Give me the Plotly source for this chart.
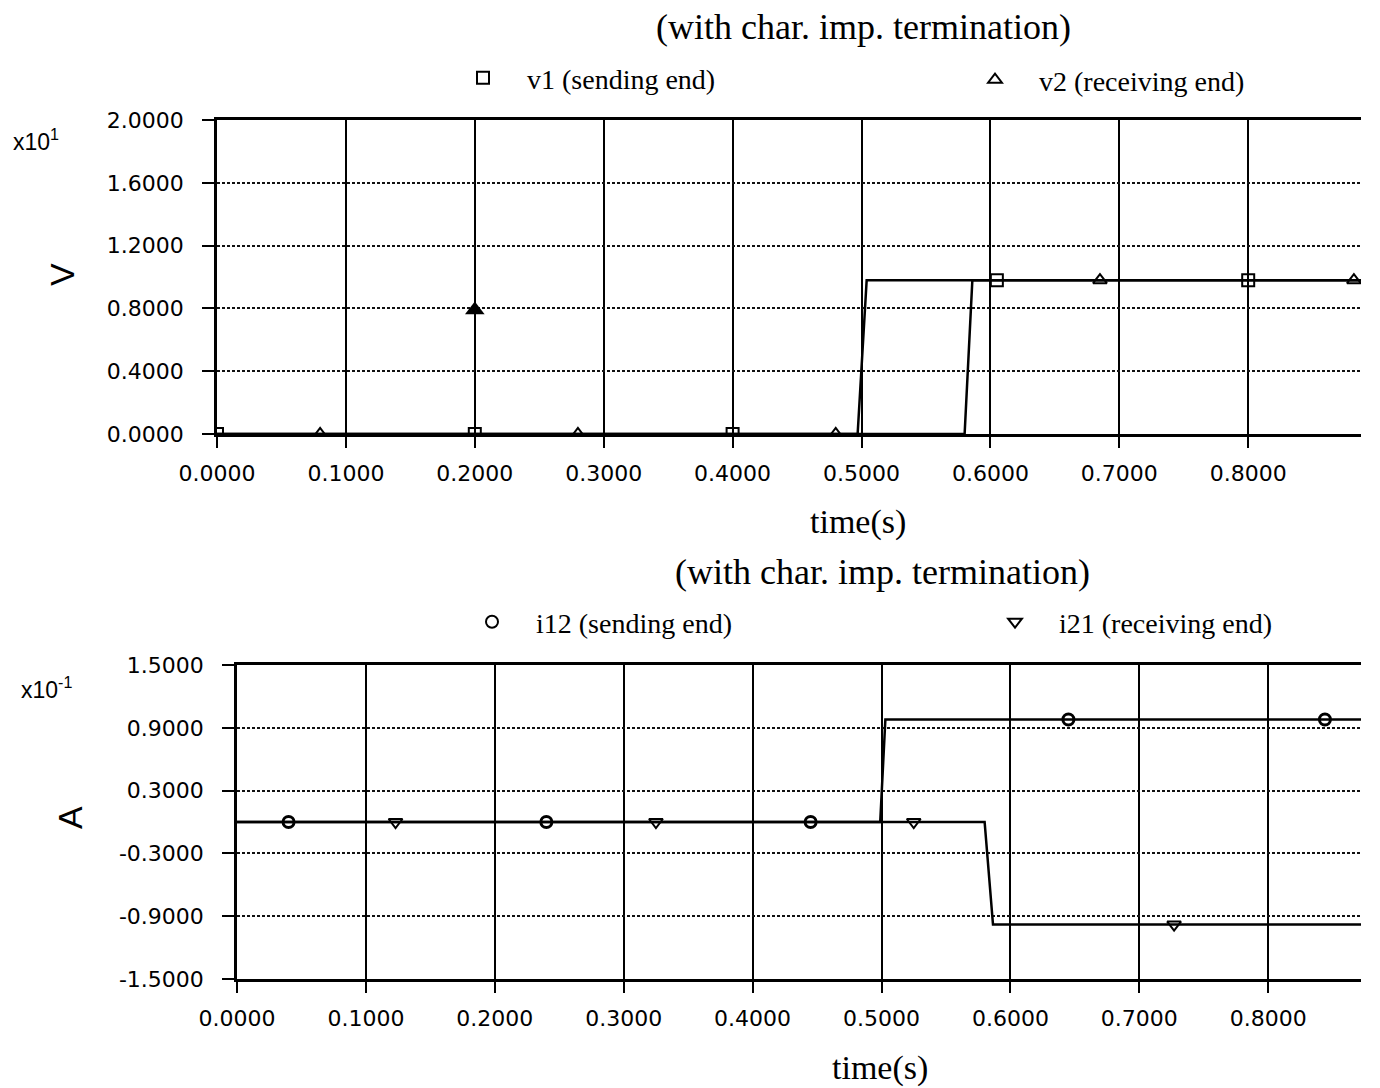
import plotly.graph_objects as go

W, H = 1380, 1088

# ---------------- data ----------------
# voltages (V), step curves (time in s)
t_v1 = [0.0, 0.497, 0.504, 0.95]
v1 = [0.0, 0.0, 9.8, 9.8]
t_v2 = [0.0, 0.580, 0.586, 0.95]
v2 = [0.0, 0.0, 9.8, 9.8]

# marker points
t_v1_mk = [0.0, 0.2, 0.4, 0.605, 0.8]
v1_mk = [0.0, 0.0, 0.0, 9.8, 9.8]
t_v2_mk = [0.08, 0.28, 0.48, 0.685, 0.882]
v2_mk = [0.0, 0.0, 0.0, 9.8, 9.8]
t_blob = [0.2]
v_blob = [7.9]

# currents (A)
t_i12 = [0.0, 0.499, 0.503, 0.95]
i12 = [0.0, 0.0, 0.098, 0.098]
t_i21 = [0.0, 0.580, 0.5865, 0.95]
i21 = [0.0, 0.0, -0.098, -0.098]

t_i12_mk = [0.04, 0.24, 0.445, 0.645, 0.844]
i12_mk = [0.0, 0.0, 0.0, 0.098, 0.098]
t_i21_mk = [0.123, 0.325, 0.525, 0.727]
i21_mk = [0.0, 0.0, 0.0, -0.098]

V_SCALE = 10.0     # x10^1
I_SCALE = 0.1      # x10^-1

x_ticks = [0.0, 0.1, 0.2, 0.3, 0.4, 0.5, 0.6, 0.7, 0.8, 0.9]
v_ticks = [0.0, 0.4, 0.8, 1.2, 1.6, 2.0]
i_ticks = [-1.5, -0.9, -0.3, 0.3, 0.9, 1.5]

title_text = "(with char. imp. termination)"

# ---------------- figure ----------------
fig = go.Figure()

LINE = dict(color="black", width=2.5)

def sc(vals, s):
    return [v / s for v in vals]

def fmt(vals):
    return ["%.4f" % v for v in vals]   # plain hyphen-minus like the original

# top plot
fig.add_trace(go.Scatter(x=t_v1, y=sc(v1, V_SCALE), mode="lines", line=LINE,
                         xaxis="x", yaxis="y", showlegend=False, hoverinfo="skip"))
fig.add_trace(go.Scatter(x=t_v2, y=sc(v2, V_SCALE), mode="lines", line=LINE,
                         xaxis="x", yaxis="y", showlegend=False, hoverinfo="skip"))
fig.add_trace(go.Scatter(x=t_v1_mk, y=sc(v1_mk, V_SCALE), mode="markers", name="v1 (sending end)",
                         marker=dict(symbol="square-open", size=12, color="black", line=dict(width=2)),
                         xaxis="x", yaxis="y", legend="legend"))
fig.add_trace(go.Scatter(x=t_v2_mk, y=sc(v2_mk, V_SCALE), mode="markers", name="v2 (receiving end)",
                         marker=dict(symbol="triangle-up-open", size=12, color="black", line=dict(width=2)),
                         xaxis="x", yaxis="y", legend="legend2"))
fig.add_trace(go.Scatter(x=t_blob, y=sc(v_blob, V_SCALE), mode="markers", showlegend=False,
                         marker=dict(symbol="triangle-up", size=17, color="black"),
                         xaxis="x", yaxis="y", hoverinfo="skip"))

# bottom plot
fig.add_trace(go.Scatter(x=t_i12, y=sc(i12, I_SCALE), mode="lines", line=LINE,
                         xaxis="x2", yaxis="y2", showlegend=False, hoverinfo="skip"))
fig.add_trace(go.Scatter(x=t_i21, y=sc(i21, I_SCALE), mode="lines", line=LINE,
                         xaxis="x2", yaxis="y2", showlegend=False, hoverinfo="skip"))
fig.add_trace(go.Scatter(x=t_i12_mk, y=sc(i12_mk, I_SCALE), mode="markers", name="i12 (sending end)",
                         marker=dict(symbol="circle-open", size=11, color="black", line=dict(width=3)),
                         xaxis="x2", yaxis="y2", legend="legend3"))
fig.add_trace(go.Scatter(x=t_i21_mk, y=sc(i21_mk, I_SCALE), mode="markers", name="i21 (receiving end)",
                         marker=dict(symbol="triangle-down-open", size=12, color="black", line=dict(width=2)),
                         xaxis="x2", yaxis="y2", legend="legend4"))

TICKFONT = dict(family="DejaVu Sans", size=22, color="black")

def xaxis_cfg(x0px, anchor):
    return dict(
        domain=[x0px / W, 1.0], range=[0, (W - x0px) / 1289.0], anchor=anchor,
        tickvals=x_ticks, ticktext=fmt(x_ticks), tickfont=TICKFONT,
        showgrid=True, gridcolor="black", gridwidth=2,
        showline=True, linecolor="black", linewidth=2.5, mirror=True,
        ticks="outside", ticklen=11, tickwidth=2, tickcolor="black",
        ticklabelstandoff=7, zeroline=False, automargin=False,
    )

def yaxis_cfg(y_top_px, y_bot_px, rng, tickvals, anchor):
    return dict(
        domain=[1 - y_bot_px / H, 1 - y_top_px / H], range=rng, anchor=anchor,
        tickvals=tickvals, ticktext=fmt(tickvals), tickfont=TICKFONT,
        showgrid=True, gridcolor="#111", gridwidth=2, griddash="3px,2px",
        showline=True, linecolor="black", linewidth=2.5, mirror=False,
        ticks="outside", ticklen=12, tickwidth=2, tickcolor="black",
        ticklabelstandoff=14, zeroline=False, automargin=False,
    )

LEGFONT = dict(family="Liberation Serif", size=28, color="black")

def leg(sym_xpx, ypx):
    # with itemwidth=78 the symbol sits 44px and the text 88px right of the legend origin
    return dict(x=(sym_xpx - 44) / W, y=1 - ypx / H, xanchor="left", yanchor="middle",
                font=LEGFONT, bgcolor="rgba(0,0,0,0)", itemsizing="constant",
                itemwidth=78, borderwidth=0)

def note(text, xpx, ypx, size, family, angle=0, xanchor="center"):
    return dict(text=text, x=xpx / W, y=1 - ypx / H, xref="paper", yref="paper",
                xanchor=xanchor, yanchor="middle", textangle=angle, showarrow=False,
                font=dict(family=family, size=size, color="black"))

fig.update_layout(
    width=W, height=H, margin=dict(l=0, r=0, t=0, b=0, autoexpand=False),
    paper_bgcolor="white", plot_bgcolor="white",
    xaxis=xaxis_cfg(217, "y"),
    yaxis=yaxis_cfg(120, 434, [0, 2.0], v_ticks, "x"),
    xaxis2=xaxis_cfg(237, "y2"),
    yaxis2=yaxis_cfg(665, 979, [-1.5, 1.5], i_ticks, "x2"),
    legend=leg(483, 78),
    legend2=leg(995, 80),
    legend3=leg(492, 622),
    legend4=leg(1015, 622),
    annotations=[
        note(title_text, 863, 27, 36, "Liberation Serif"),
        note(title_text, 882, 572, 36, "Liberation Serif"),
        note("time(s)", 858, 522, 34, "Liberation Serif"),
        note("time(s)", 880, 1068, 34, "Liberation Serif"),
        note("V", 62, 275, 34, "Liberation Sans", angle=-90),
        note("A", 70, 818, 34, "Liberation Sans", angle=-90),
        note("x10<sup>1</sup>", 11, 140, 23, "Liberation Sans", xanchor="left"),
        note("x10<sup>-1</sup>", 19, 688, 23, "Liberation Sans", xanchor="left"),
    ],
    shapes=[
        dict(type="rect", xref="paper", yref="paper", x0=1361 / W, x1=1.0, y0=0, y1=1,
             fillcolor="white", line=dict(width=0), layer="above"),
    ],
)

fig.write_html("out.html")
